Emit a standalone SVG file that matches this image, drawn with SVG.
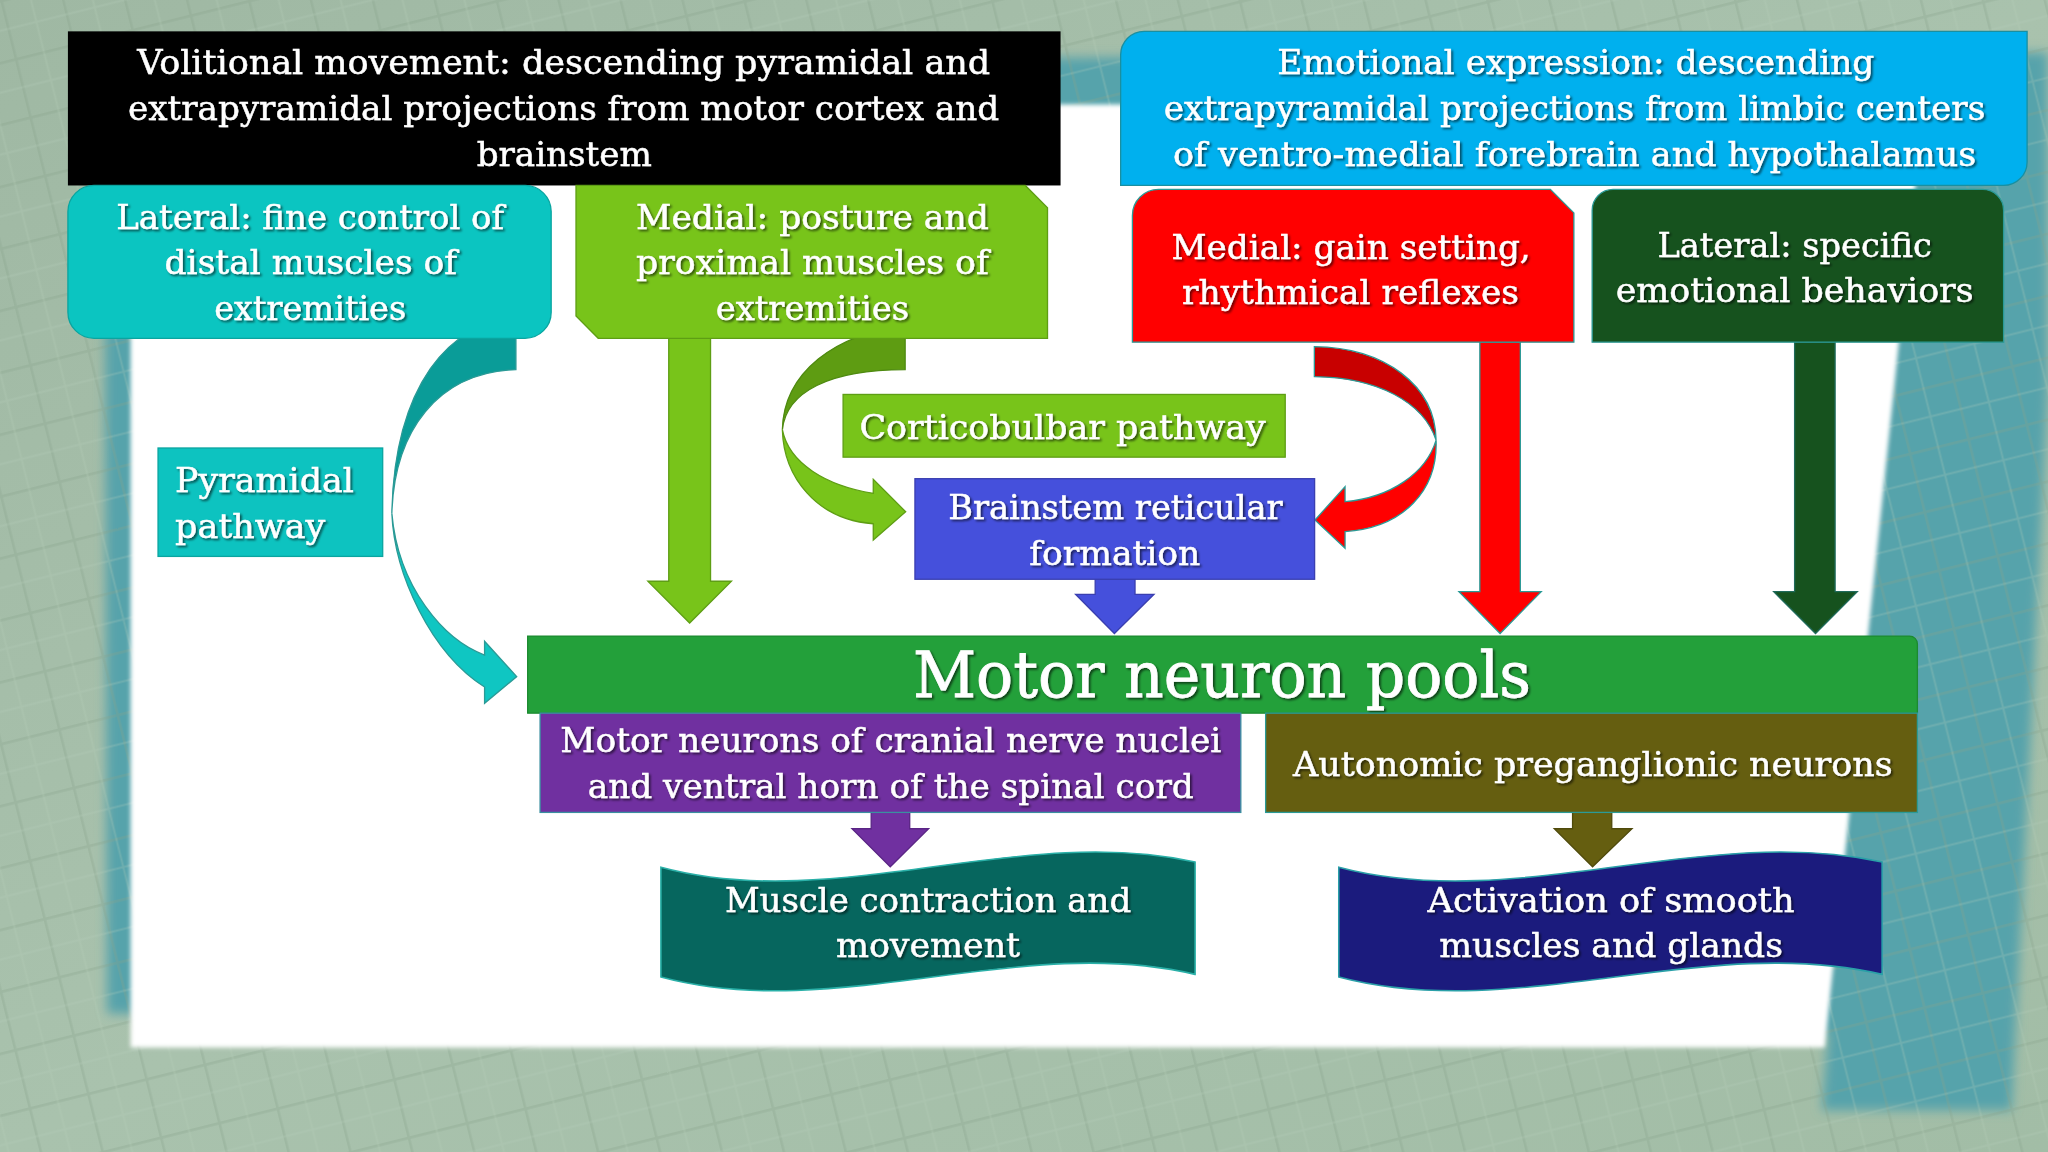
<svg xmlns="http://www.w3.org/2000/svg" width="2048" height="1152" viewBox="0 0 2048 1152">
<defs>
<style>
.t{font-family:"DejaVu Serif","Liberation Serif",serif;font-size:26px;fill:#ffffff;stroke:#ffffff;stroke-width:0.35px;text-anchor:middle;filter:url(#ts)}
.tl{text-anchor:start}
.big{font-size:48px;stroke-width:0.6px}
.ol{stroke:#2a9a96;stroke-width:1}
</style>
<filter id="ts" x="-5%" y="-20%" width="110%" height="150%">
<feDropShadow dx="1.4" dy="1.4" stdDeviation="0.9" flood-color="#000" flood-opacity="0.6"/>
</filter>
<filter id="soft" x="-5%" y="-5%" width="110%" height="110%">
<feGaussianBlur stdDeviation="4"/>
</filter>
<filter id="soft2" x="-2%" y="-2%" width="104%" height="104%">
<feGaussianBlur stdDeviation="1.5"/>
</filter>
<linearGradient id="bg" x1="0" y1="0" x2="1" y2="1">
<stop offset="0" stop-color="#9fb8a3"/>
<stop offset="0.5" stop-color="#a9c2ad"/>
<stop offset="1" stop-color="#a2bda6"/>
</linearGradient>
<pattern id="grid" width="46" height="46" patternUnits="userSpaceOnUse" patternTransform="rotate(-14)">
<rect width="46" height="46" fill="none"/>
<path d="M0,0.5 H46 M0.5,0 V46" stroke="#86a08b" stroke-width="3" opacity="0.3"/>
<path d="M0,23 H46 M23,0 V46" stroke="#b7cdb9" stroke-width="1.5" opacity="0.25"/>
</pattern>
</defs>

<g transform="scale(1.30612245)">
<g id="background">
<rect x="0" y="0" width="1568" height="882" fill="url(#bg)"/>
<polygon points="80,48 1568,40 1568,300 1540,850 1395,850 1400,790 82,776" fill="#57a3ab" filter="url(#soft)"/>
<rect x="0" y="0" width="1568" height="882" fill="url(#grid)"/>
<polygon points="100,80 1473,80 1397,802 100,802" fill="#ffffff" filter="url(#soft2)"/>
</g>

<g id="connectors">
<path d="M395,245 C345,245 302,295 300,393 C302,330 335,285 395,283 Z" fill="#0a9c98" class="ol"/>
<path d="M300,393 C302,440 330,500 371,526 L371,538.5 L395.6,518 L371,491 L371,501.5 C340,490 305,450 300,393 Z" fill="#0fc6c2" class="ol"/>
<path d="M512,255 H544 V445 H560 L528,477 L496,445 H512 Z" fill="#78c41a" stroke="#5e9e14" stroke-width="1"/>
<path d="M693,250 C640,255 600,285 599,329 C602,300 635,283 693,283 Z" fill="#5e9c12" stroke="#4e8a10" stroke-width="1"/>
<path d="M599,329 C600,365 625,398 668.6,401 L668.6,413.4 L693.4,391.8 L668.6,367 L668.6,377.7 C633,372 604,355 599,329 Z" fill="#78c41a" stroke="#5e9e14" stroke-width="1"/>
<path d="M1006.3,265.4 C1060,266 1099,295 1099.5,337 C1090,308 1055,289 1006.3,288.4 Z" fill="#c80000" class="ol"/>
<path d="M1099.5,337 C1101,375 1075,404 1029.8,407 L1029.8,419.8 L1006.8,398.1 L1029.8,372.6 L1029.8,384.1 C1065,381 1092,362 1099.5,337 Z" fill="#ff0000" class="ol"/>
<path d="M1133,262 H1164 V453 H1180 L1148.5,485 L1117,453 H1133 Z" fill="#ff0000" class="ol"/>
<path d="M1374,262 H1405 V453 H1422 L1390,485 L1358,453 H1374 Z" fill="#16521e" stroke="#1f6a5a" stroke-width="1"/>
<path d="M838.5,443.5 H869 V455 H883.5 L853.2,485 L823.5,455 H838.5 Z" fill="#4550dc" stroke="#3a3fb0" stroke-width="1"/>
<path d="M667,622 H696.5 V634.5 H711 L681.6,663.6 L652.3,634.5 H667 Z" fill="#7030a0" stroke="#5a2585" stroke-width="1"/>
<path d="M1204,622 H1234 V634.5 H1249.5 L1219.3,663.6 L1190,634.5 H1204 Z" fill="#655e10" stroke="#4f4a0c" stroke-width="1"/>
</g>

<g id="node-volitional">
<rect x="52" y="24" width="760" height="118" fill="#000000"/>
<text class="t" x="431.5" y="57" textLength="653" lengthAdjust="spacingAndGlyphs">Volitional movement: descending pyramidal and</text>
<text class="t" x="431.5" y="92" textLength="667" lengthAdjust="spacingAndGlyphs">extrapyramidal projections from motor cortex and</text>
<text class="t" x="432" y="127" textLength="134" lengthAdjust="spacingAndGlyphs">brainstem</text>
</g>

<g id="node-emotional">
<path d="M876,24 H1552 V124 A18,18 0 0 1 1534,142 H858 V42 A18,18 0 0 1 876,24 Z" fill="#00b0ee" stroke="#1a8fa0" stroke-width="1"/>
<text class="t" x="1206.5" y="57" textLength="457" lengthAdjust="spacingAndGlyphs">Emotional expression: descending</text>
<text class="t" x="1205.5" y="92" textLength="629" lengthAdjust="spacingAndGlyphs">extrapyramidal projections from limbic centers</text>
<text class="t" x="1205.5" y="127" textLength="615" lengthAdjust="spacingAndGlyphs">of ventro-medial forebrain and hypothalamus</text>
</g>

<g id="node-lateral-fine">
<rect x="52" y="142" width="370" height="117" rx="20" ry="20" fill="#0bc5c1" stroke="#0aa5a0" stroke-width="1"/>
<text class="t" x="237.5" y="175" textLength="297" lengthAdjust="spacingAndGlyphs">Lateral: fine control of</text>
<text class="t" x="238" y="210" textLength="224" lengthAdjust="spacingAndGlyphs">distal muscles of</text>
<text class="t" x="237.5" y="245" textLength="147" lengthAdjust="spacingAndGlyphs">extremities</text>
</g>

<g id="node-medial-posture">
<path d="M441,142 H785 L802,159 V259 H458 L441,242 Z" fill="#78c41a" stroke="#5e9e14" stroke-width="1"/>
<text class="t" x="622" y="175" textLength="270" lengthAdjust="spacingAndGlyphs">Medial: posture and</text>
<text class="t" x="622" y="210" textLength="270" lengthAdjust="spacingAndGlyphs">proximal muscles of</text>
<text class="t" x="622" y="245" textLength="148" lengthAdjust="spacingAndGlyphs">extremities</text>
</g>

<g id="node-medial-gain">
<path d="M887,145 H1187 L1205,163 V262 H867 V165 A20,20 0 0 1 887,145 Z" fill="#ff0000" class="ol"/>
<text class="t" x="1034.5" y="198" textLength="275" lengthAdjust="spacingAndGlyphs">Medial: gain setting,</text>
<text class="t" x="1034" y="233" textLength="258" lengthAdjust="spacingAndGlyphs">rhythmical reflexes</text>
</g>

<g id="node-lateral-specific">
<path d="M1235,145 H1518 A16,16 0 0 1 1534,161 V262 H1219 V161 A16,16 0 0 1 1235,145 Z" fill="#16521e" class="ol"/>
<text class="t" x="1374" y="197" textLength="210" lengthAdjust="spacingAndGlyphs">Lateral: specific</text>
<text class="t" x="1374" y="231" textLength="274" lengthAdjust="spacingAndGlyphs">emotional behaviors</text>
</g>

<g id="node-pyramidal">
<rect x="121" y="343" width="172" height="83" fill="#0dc3c0" stroke="#0aa5a0" stroke-width="1"/>
<text class="t tl" x="134" y="377" textLength="137" lengthAdjust="spacingAndGlyphs">Pyramidal</text>
<text class="t tl" x="134" y="412" textLength="115" lengthAdjust="spacingAndGlyphs">pathway</text>
</g>

<g id="node-corticobulbar">
<rect x="645.5" y="302" width="338.5" height="48" fill="#78c41a" stroke="#5e9e14" stroke-width="1"/>
<text class="t" x="813.5" y="336" textLength="311" lengthAdjust="spacingAndGlyphs">Corticobulbar pathway</text>
</g>

<g id="node-brainstem">
<rect x="700.5" y="366.5" width="306" height="77" fill="#4550dc" stroke="#3a3fb0" stroke-width="1"/>
<text class="t" x="854" y="397" textLength="256" lengthAdjust="spacingAndGlyphs">Brainstem reticular</text>
<text class="t" x="853.5" y="432.5" textLength="131" lengthAdjust="spacingAndGlyphs">formation</text>
</g>

<g id="node-motor-pools">
<path d="M404,487 H1462 A6,6 0 0 1 1468,493 V546 H404 Z" fill="#23a03a" stroke="#1c8a30" stroke-width="1"/>
<text class="t big" x="935.5" y="534" textLength="473" lengthAdjust="spacingAndGlyphs">Motor neuron pools</text>
</g>

<g id="node-motor-neurons">
<rect x="413.5" y="546" width="536.5" height="76" fill="#7030a0" stroke="#3a8fa0" stroke-width="1"/>
<text class="t" x="682" y="576" textLength="506" lengthAdjust="spacingAndGlyphs">Motor neurons of cranial nerve nuclei</text>
<text class="t" x="682" y="611" textLength="464" lengthAdjust="spacingAndGlyphs">and ventral horn of the spinal cord</text>
</g>

<g id="node-autonomic">
<rect x="969" y="546" width="499" height="76" fill="#655e10" class="ol"/>
<text class="t" x="1219.5" y="594" textLength="459" lengthAdjust="spacingAndGlyphs">Autonomic preganglionic neurons</text>
</g>

<g id="node-muscle">
<path d="M506,664 C640,700 780,630 915,660 L915,746 C780,714 640,784 506,748 Z" fill="#06665e" stroke="#2ab0a8" stroke-width="1.2"/>
<text class="t" x="710.5" y="698" textLength="311" lengthAdjust="spacingAndGlyphs">Muscle contraction and</text>
<text class="t" x="710.5" y="733" textLength="141" lengthAdjust="spacingAndGlyphs">movement</text>
</g>

<g id="node-smooth">
<path d="M1025,664 C1161,700 1304,630 1441,660 L1441,746 C1304,714 1161,784 1025,748 Z" fill="#1b1b7d" stroke="#2aa0a8" stroke-width="1.2"/>
<text class="t" x="1233.5" y="698" textLength="281" lengthAdjust="spacingAndGlyphs">Activation of smooth</text>
<text class="t" x="1233.5" y="733" textLength="263" lengthAdjust="spacingAndGlyphs">muscles and glands</text>
</g>
</g>
</svg>
